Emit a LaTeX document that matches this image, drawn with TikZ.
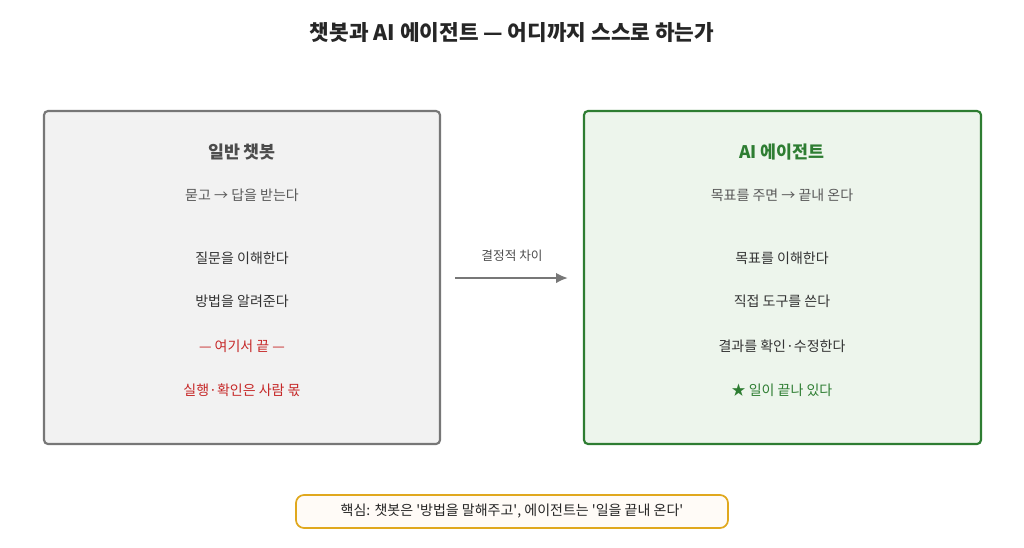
\documentclass[tikz,border=0pt]{standalone}
\usepackage{fontspec}
\usetikzlibrary{arrows.meta}
\setmainfont{Noto Sans CJK KR}
\newcommand{\q}{\textquotesingle}
\begin{document}
\begin{tikzpicture}[x=0.75pt,y=-0.75pt,
  txt/.style={font=\fontsize{10.5}{12}\selectfont, text=black!80},
  ttl/.style={font=\fontsize{13}{15}\selectfont\bfseries},
  box/.style={rounded corners=3pt, line width=1.6pt}]
\definecolor{gbd}{HTML}{777777}\definecolor{gfl}{HTML}{F2F2F2}
\definecolor{grn}{HTML}{2E7D32}\definecolor{gfg}{HTML}{EDF5EC}
\definecolor{red1}{HTML}{C62828}\definecolor{org}{HTML}{E0A81E}
\useasboundingbox (0,0) rectangle (1024,547);
\node[font=\fontsize{16}{18}\selectfont\bfseries, text=black!85] (title) at (512,33) {챗봇과 AI 에이전트 — 어디까지 스스로 하는가};
\draw[box, draw=gbd, fill=gfl] (44,111) rectangle (440,444);
\draw[box, draw=grn, fill=gfg] (584,111) rectangle (981,444);
\node[ttl, text=black!70] (lt) at (242,152) {일반 챗봇};
\node[txt, text=black!65] (ls) at (242,195) {묻고 → 답을 받는다};
\node[txt] (l1) at (242,258) {질문을 이해한다};
\node[txt] (l2) at (242,301) {방법을 알려준다};
\node[txt, text=red1] (l3) at (242,346) {— 여기서 끝 —};
\node[txt, text=red1] (l4) at (242,390) {실행·확인은 사람 몫};
\node[ttl, text=grn] (rt) at (782,152) {AI 에이전트};
\node[txt, text=black!65] (rs) at (782,195) {목표를 주면 → 끝내 온다};
\node[txt] (r1) at (782,258) {목표를 이해한다};
\node[txt] (r2) at (782,301) {직접 도구를 쓴다};
\node[txt] (r3) at (782,346) {결과를 확인·수정한다};
\node[txt, text=grn] (r4) at (782,390) {★ 일이 끝나 있다};
\coordinate (a1) at (455,278); \coordinate (a2) at (568,278);
\draw[line width=1.8pt, draw=gbd, -{Latex[length=9pt,width=8pt]}] (a1) -- (a2);
\node[font=\fontsize{9.5}{11}\selectfont, text=black!70] (al) at (512,256) {결정적 차이};
\node[draw=org, fill=orange!3, line width=1.3pt, rounded corners=6pt, minimum width=432*0.75pt, minimum height=33*0.75pt, txt, text=black!85] (key) at (512,511.5) {핵심: 챗봇은 \q 방법을 말해주고\q, 에이전트는 \q 일을 끝내 온다\q};
\end{tikzpicture}
\end{document}
